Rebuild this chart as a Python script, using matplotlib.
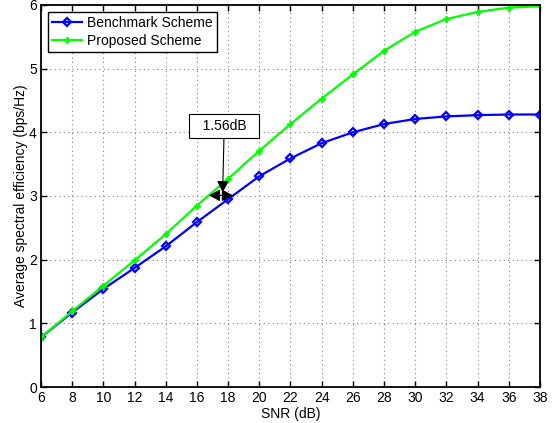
import matplotlib
matplotlib.use("Agg")
import matplotlib.pyplot as plt

plt.rcParams["font.family"] = ["Liberation Sans", "DejaVu Sans"]

# SNR sweep (dB) and average spectral efficiency (bps/Hz)
snr_db = [6, 8, 10, 12, 14, 16, 18, 20, 22, 24, 26, 28, 30, 32, 34, 36, 38]
benchmark = [0.78, 1.17, 1.54, 1.87, 2.21, 2.59, 2.95, 3.31, 3.59, 3.83, 4.00,
             4.13, 4.21, 4.25, 4.27, 4.28, 4.28]
proposed = [0.78, 1.19, 1.59, 1.99, 2.40, 2.85, 3.27, 3.71, 4.13, 4.53, 4.91,
            5.28, 5.58, 5.78, 5.89, 5.96, 5.98]

gap_label = "1.56dB"
gap_level = 3.01
gap_span = (16.77, 18.31)
text_pos = (17.75, 4.10)

fig = plt.figure(figsize=(5.58, 4.23), dpi=100)
ax = fig.add_axes([0.0735, 0.0851, 0.8942, 0.9031])

ax.plot(snr_db, benchmark, color="#0000ff", lw=1.6, marker="D", ms=4.5,
        mfc="none", mec="#0000ff", mew=1.6, label="Benchmark Scheme")
ax.plot(snr_db, proposed, color="#00ff00", lw=1.6, marker="P", ms=4.5,
        mfc="#00ff00", mec="#00ff00", mew=0.5, label="Proposed Scheme")

# gap between the two curves at the same rate
head = "head_length=0.75,head_width=0.4"
ax.annotate("", xy=(gap_span[0], gap_level), xytext=(gap_span[1], gap_level),
            arrowprops=dict(arrowstyle="<|-|>," + head, color="black", lw=0.8,
                            mutation_scale=9, shrinkA=0, shrinkB=0))
ax.annotate("  " + gap_label + "  ", xy=(17.65, gap_level + 0.05), xytext=text_pos,
            ha="center", va="center", fontsize=10,
            bbox=dict(boxstyle="square,pad=0.38", fc="white", ec="black", lw=0.8),
            arrowprops=dict(arrowstyle="-|>," + head, color="black", lw=0.8,
                            mutation_scale=9, shrinkA=0, shrinkB=0))

ax.set_xlim(6, 38)
ax.set_ylim(0, 6)
ax.set_xticks(range(6, 39, 2))
ax.set_yticks(range(0, 7))
ax.tick_params(direction="in", top=True, right=True, labelsize=10, length=4,
               width=1, pad=3)
ax.grid(True, linestyle=(0, (1, 3)), color="#808080", lw=0.8)
for sp in ax.spines.values():
    sp.set_linewidth(1.3)

ax.set_xlabel("SNR (dB)", fontsize=10, labelpad=1)
ax.set_ylabel("Average spectral efficiency (bps/Hz)", fontsize=10, labelpad=0.5)

leg = ax.legend(loc="upper left", fontsize=10, fancybox=False, framealpha=1,
                edgecolor="black", borderpad=0.3, handlelength=2.15,
                handletextpad=0.35, labelspacing=0.3, borderaxespad=0.5)
leg.get_frame().set_linewidth(1.0)

fig.savefig("out.png", dpi=100)
